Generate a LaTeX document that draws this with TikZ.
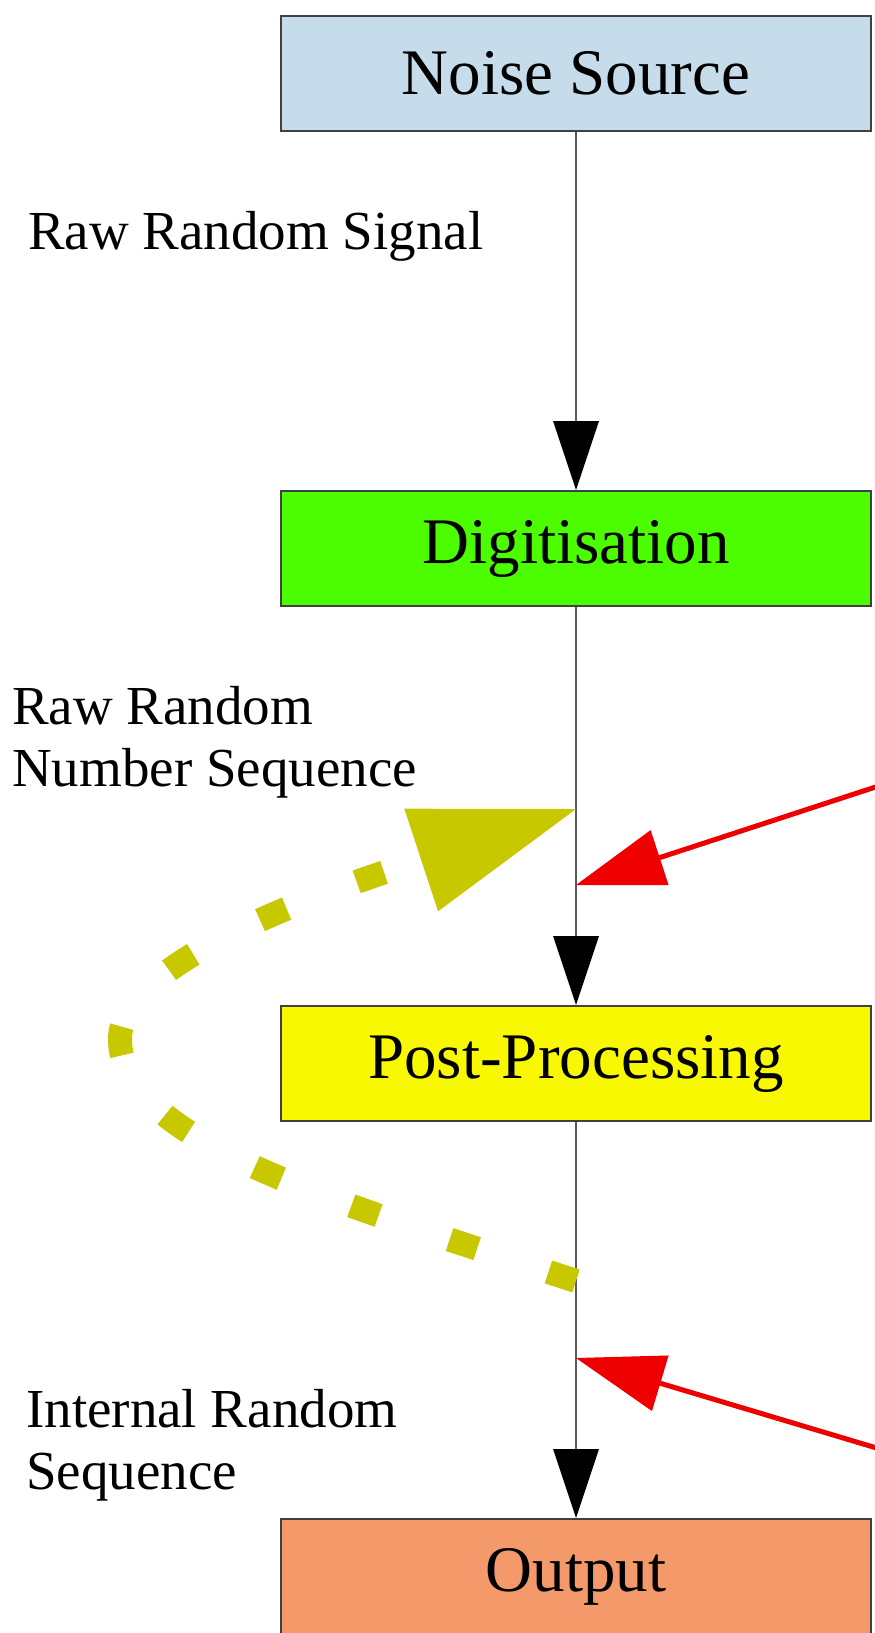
\documentclass[tikz,border=0pt]{standalone}
\usepackage{fontspec}
\setmainfont{Liberation Serif}
\usetikzlibrary{arrows.meta,positioning}
\definecolor{noiseblue}{HTML}{C7DCEA}
\definecolor{digitgreen}{HTML}{4CFC00}
\definecolor{postyellow}{HTML}{F8F800}
\definecolor{outorange}{HTML}{F3996A}
\definecolor{edgegray}{HTML}{5A5A5A}
\definecolor{attackred}{HTML}{EE0000}
\definecolor{feedolive}{HTML}{C8C800}
\tikzset{
  stage/.style={draw=black!75,line width=2pt,minimum width=590pt,
                minimum height=115pt,inner sep=0pt,
                font=\fontsize{65}{70}\selectfont},
  edgelabel/.style={anchor=north west,inner sep=0pt,align=left,
                    font=\fontsize{55}{62}\selectfont},
  flow/.style={draw=edgegray,line width=1.5pt,
               -{Triangle[length=69pt,width=46pt,line width=0pt,color=black]}},
  attack/.style={draw=attackred,line width=5pt,
                 -{Triangle[length=88pt,width=58pt,line width=0pt]}},
  feedback/.style={draw=feedolive,line width=24pt,dash pattern=on 29pt off 75pt,
                   -{Triangle[length=163pt,width=108pt,line width=0pt]}}
}
\begin{document}
\begin{tikzpicture}[x=1pt,y=-1pt]
  \useasboundingbox (0,0) rectangle (875,1633);
  \node[stage,fill=noiseblue] (noise) at (576,73.5) {Noise Source};
  \node[stage,fill=digitgreen,below=358pt of noise] (digit) {Digitisation};
  \node[stage,fill=postyellow,below=398pt of digit] (post) {Post-Processing};
  \node[stage,fill=outorange,below=396pt of post] (output) {Output};

  \node[edgelabel] (siglabel) at (28,211) {Raw Random Signal};
  \node[edgelabel] (numlabel) at (12,686) {Raw Random\\Number Sequence};
  \node[edgelabel] (intlabel) at (26,1389) {Internal Random\\Sequence};

  % taps on the data path
  \coordinate[below=202pt of digit.south] (looptip);
  \coordinate[below=278pt of digit.south] (hitA);
  \coordinate[below=159pt of post.south] (loopstart);
  \coordinate[below=236pt of post.south] (hitB);
  \coordinate (loopapex) at (120,1039);
  \coordinate (leakA) at (900,779);
  \coordinate (leakB) at (900,1455);

  \draw[flow] (noise) -- (digit);
  \draw[flow] (digit) -- (post);
  \draw[flow] (post) -- (output);
  \draw[feedback] (loopstart) .. controls (330,1200) and (120,1140) .. (loopapex)
    .. controls (120,960) and (330,890) .. (looptip);
  \draw[attack] (leakA) -- (hitA);
  \draw[attack] (leakB) -- (hitB);
\end{tikzpicture}
\end{document}
